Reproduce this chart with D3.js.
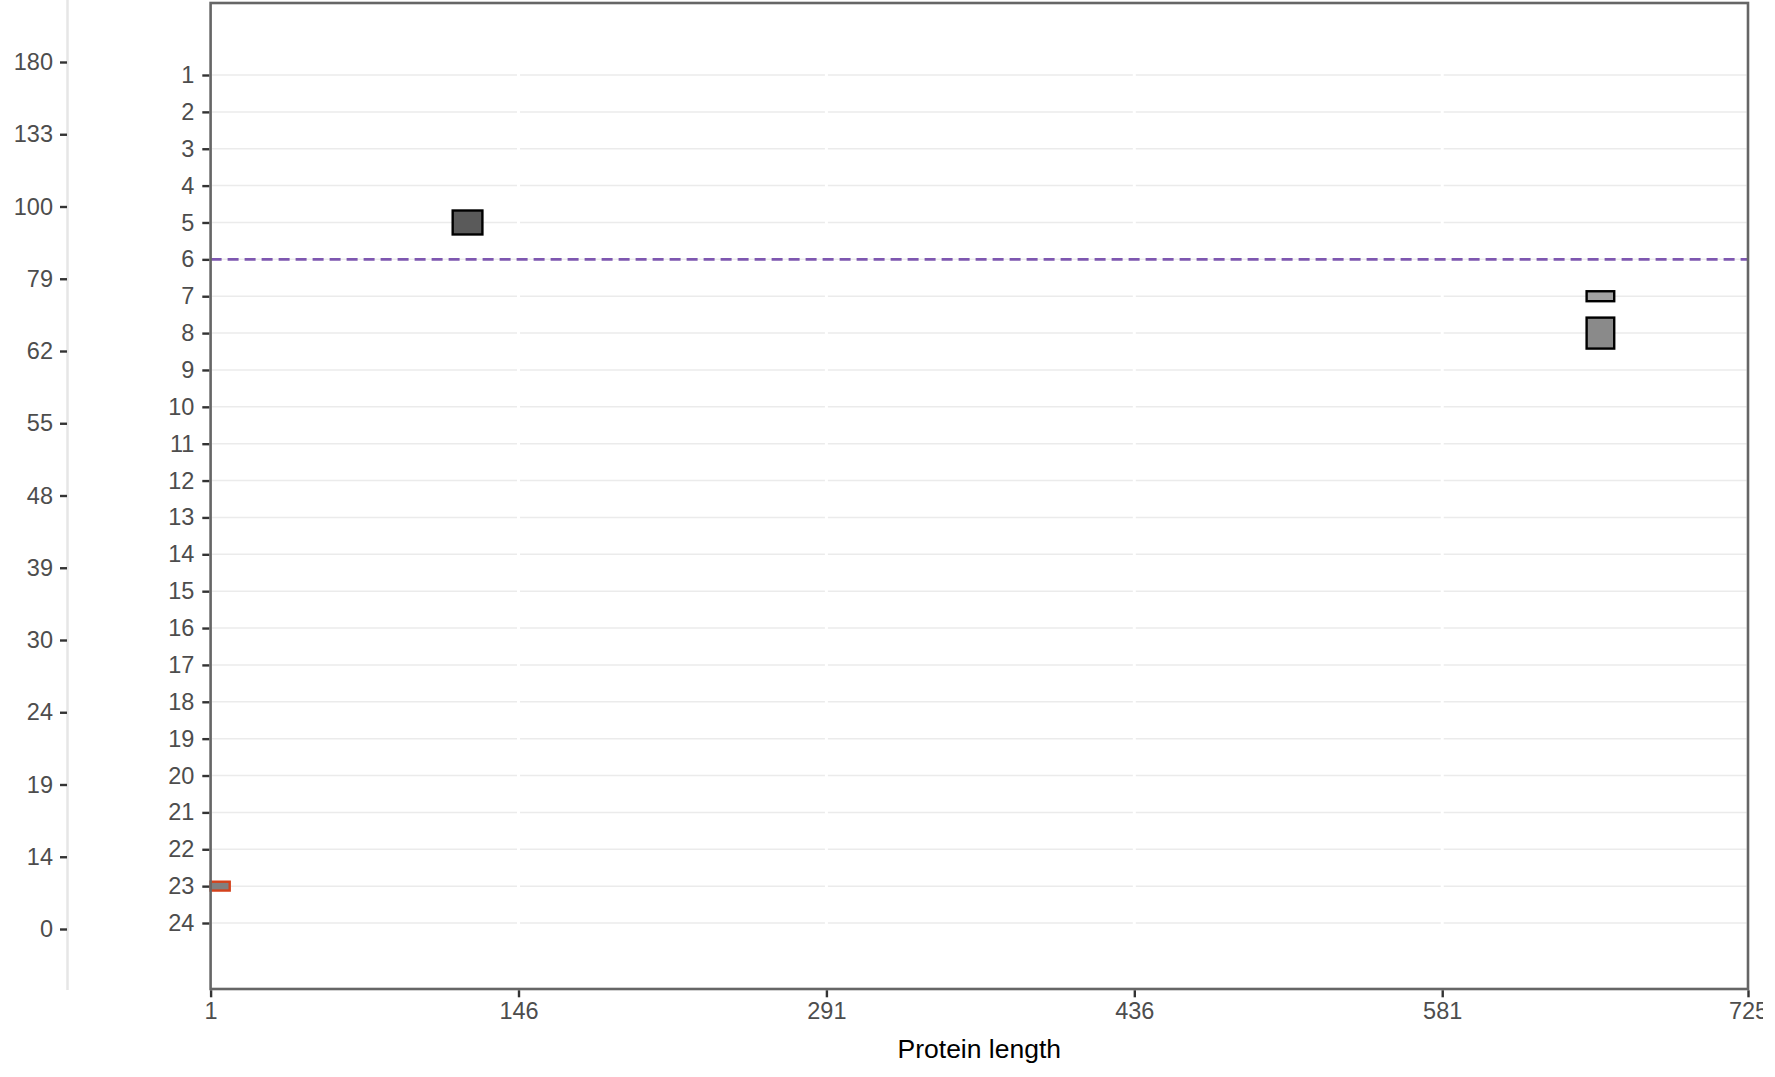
<!DOCTYPE html>
<html>
<head>
<meta charset="utf-8">
<script src="https://cdn.jsdelivr.net/npm/d3@7"></script>
<style>
  html, body { margin: 0; padding: 0; background: #fff; }
  svg { display: block; font-family: "Liberation Sans", Arial, sans-serif; }
</style>
</head>
<body>
<svg id="chart" width="1775" height="1077"></svg>
<script>
// ---- data ----
const outerLabels = ["180","133","100","79","62","55","48","39","30","24","19","14","0"];
const trackLevels = d3.range(1, 25);
const xTickValues = [1, 146, 291, 436, 581, 725];
const xDomain = [1, 725];
const thresholdTrack = 6;

const featTrack = [5, 7, 8, 23];
const featStart = [115, 649, 649, 1];
const featEnd   = [129, 662, 662, 10];
const featSize  = [0.65, 0.27, 0.84, 0.24];
const featGroup = ["dark", "light", "mid", "flag"];

// ---- styles ----
const groupFill   = { dark: "#5a5a5a", light: "#a3a3a3", mid: "#8a8a8a", flag: "#808080" };
const groupStroke = { dark: "#000", light: "#000", mid: "#000", flag: "#d4421c" };

const svg = d3.select("#chart");
const P = { left: 210.6, right: 1748, top: 3, bottom: 989 };

const x = d3.scaleLinear().domain(xDomain).range([P.left, P.right]);
const y = d3.scaleLinear().domain([-0.953, 25.79]).range([P.top, P.bottom]);
const yOuter = d3.scalePoint().domain(outerLabels).range([62, 929]);

svg.append("defs").append("clipPath").attr("id", "vis")
  .append("rect").attr("x", 0).attr("y", 0).attr("width", 1763).attr("height", 1077);

// outer (left) axis strip
svg.append("line")
  .attr("x1", 67.5).attr("x2", 67.5).attr("y1", 0).attr("y2", 990)
  .attr("stroke", "#e6e6e6").attr("stroke-width", 2.5);

const gOuter = svg.append("g").attr("transform", "translate(67,0)")
  .call(d3.axisLeft(yOuter).tickSize(7).tickPadding(7));
gOuter.select(".domain").remove();
gOuter.selectAll(".tick line").attr("stroke", "#333").attr("stroke-width", 2.4);
gOuter.selectAll(".tick text").attr("fill", "#4d4d4d").style("font-size", "23.5px")
  .attr("font-family", "Liberation Sans, Arial, sans-serif");

// panel background grid
const grid = svg.append("g");
grid.selectAll("line.h").data(trackLevels).join("line")
  .attr("class", "h")
  .attr("x1", P.left).attr("x2", P.right)
  .attr("y1", d => y(d)).attr("y2", d => y(d))
  .attr("stroke", "#ebebeb").attr("stroke-width", 1.5);
grid.selectAll("line.v").data(xTickValues).join("line")
  .attr("class", "v")
  .attr("x1", d => x(d)).attr("x2", d => x(d))
  .attr("y1", P.top).attr("y2", P.bottom)
  .attr("stroke", "#ffffff").attr("stroke-width", 3);

// threshold dashed line
svg.append("line")
  .attr("x1", P.left).attr("x2", P.right)
  .attr("y1", y(thresholdTrack)).attr("y2", y(thresholdTrack))
  .attr("stroke", "#7e57b0").attr("stroke-width", 2.6)
  .attr("stroke-dasharray", "11,6");

// features
const feats = featTrack.map((t, i) => ({ t, s: featStart[i], e: featEnd[i], h: featSize[i], g: featGroup[i] }));
svg.append("g").selectAll("rect").data(feats).join("rect")
  .attr("x", d => x(d.s))
  .attr("width", d => x(d.e) - x(d.s))
  .attr("y", d => y(d.t - d.h / 2))
  .attr("height", d => y(d.t + d.h / 2) - y(d.t - d.h / 2))
  .attr("fill", d => groupFill[d.g])
  .attr("stroke", d => groupStroke[d.g])
  .attr("stroke-width", 2.4);

// panel border
svg.append("rect")
  .attr("x", P.left).attr("y", P.top)
  .attr("width", P.right - P.left).attr("height", P.bottom - P.top)
  .attr("fill", "none").attr("stroke", "#666").attr("stroke-width", 2.6);

// inner y axis
const gy = svg.append("g").attr("transform", `translate(${P.left - 1.3},0)`)
  .call(d3.axisLeft(y).tickValues(trackLevels).tickFormat(d3.format("d")).tickSize(7).tickPadding(8));
gy.select(".domain").remove();
gy.selectAll(".tick line").attr("stroke", "#333").attr("stroke-width", 2.4);
gy.selectAll(".tick text").attr("fill", "#4d4d4d").style("font-size", "23.5px")
  .attr("font-family", "Liberation Sans, Arial, sans-serif");

// x axis
const gx = svg.append("g").attr("clip-path", "url(#vis)")
  .append("g").attr("transform", `translate(0,${P.bottom + 1.3})`)
  .call(d3.axisBottom(x).tickValues(xTickValues).tickFormat(d3.format("d")).tickSize(7).tickPadding(5));
gx.select(".domain").remove();
gx.selectAll(".tick line").attr("stroke", "#333").attr("stroke-width", 2.4);
gx.selectAll(".tick text").attr("fill", "#4d4d4d").style("font-size", "23.5px")
  .attr("font-family", "Liberation Sans, Arial, sans-serif");

// x title
svg.append("text")
  .attr("x", (P.left + P.right) / 2).attr("y", 1058)
  .attr("text-anchor", "middle")
  .attr("fill", "#000").style("font-size", "26.5px")
  .text("Protein length");
</script>
</body>
</html>
